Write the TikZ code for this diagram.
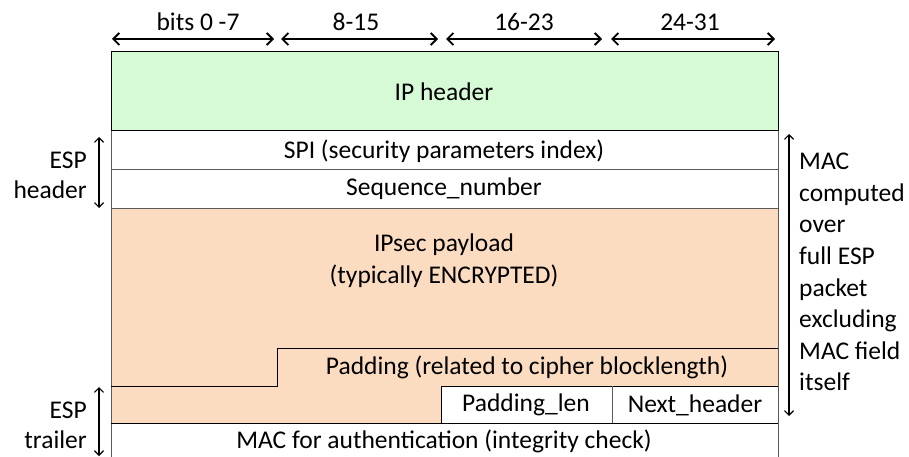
\documentclass[tikz,border=0pt]{standalone}
\usepackage{fontspec}
\setmainfont{Carlito}
\usetikzlibrary{arrows.meta}
\definecolor{ipgreen}{RGB}{213,250,213}
\definecolor{peach}{RGB}{251,220,192}
\definecolor{rowline}{RGB}{90,90,90}
\begin{document}
\begin{tikzpicture}[x=1pt,y=-1pt,
  lbl/.style={font=\fontsize{25.5}{30}\selectfont, inner sep=0pt},
  sidelbl/.style={font=\fontsize{25.5}{31.6}\selectfont, inner sep=0pt, align=left, anchor=north west},
  gline/.style={draw=rowline, line width=1pt},
  bline/.style={draw=black, line width=1pt},
  toparrow/.style={{Straight Barb[length=6pt,width=12pt]}-{Straight Barb[length=6pt,width=12pt]}, line width=1.8pt},
  sidearrow/.style={{Straight Barb[length=4.5pt,width=9pt]}-{Straight Barb[length=4.5pt,width=9pt]}, line width=1.2pt}]
\useasboundingbox (0,0) rectangle (909,457);
% fills
\fill[ipgreen] (111,52) rectangle (778,131);
\fill[peach] (111,208) -- (778,208) -- (778,386) -- (441,386) -- (441,423) -- (111,423) -- cycle;
% lines
\draw[bline] (111,131) -- (111,52) -- (778,52) -- (778,131) -- cycle;
\draw[gline] (111,131) -- (111,457);
\draw[gline] (778,131) -- (778,457);
\draw[gline] (111,170) -- (778,170);
\draw[gline] (111,208) -- (778,208);
\draw[bline] (111,386) -- (277,386) -- (277,348) -- (778,348);
\draw[bline] (441,423) -- (441,386) -- (778,386);
\draw[bline] (111,423) -- (778,423);
\draw[gline] (612,386) -- (612,423);
% top scale
\node[lbl] (b0) at (198,22) {bits 0 -7};
\node[lbl] (b1) at (356,22) {8-15};
\node[lbl] (b2) at (524,22) {16-23};
\node[lbl] (b3) at (690,22) {24-31};
\coordinate (a0l) at (112,39); \coordinate (a0r) at (274,39);
\coordinate (a1l) at (281,39); \coordinate (a1r) at (438,39);
\coordinate (a2l) at (446,39); \coordinate (a2r) at (602,39);
\coordinate (a3l) at (611,39); \coordinate (a3r) at (775,39);
\draw[toparrow] (a0l) -- (a0r);
\draw[toparrow] (a1l) -- (a1r);
\draw[toparrow] (a2l) -- (a2r);
\draw[toparrow] (a3l) -- (a3r);
% field labels
\node[lbl] (ip) at (444,92) {IP header};
\node[lbl] (spi) at (444,151) {SPI (security parameters index)};
\node[lbl] (seq) at (444,189) {Sequence\_number};
\node[lbl] (pay1) at (444,245) {IPsec payload};
\node[lbl] (pay2) at (444,276) {(typically ENCRYPTED)};
\node[lbl] (pad) at (527,367) {Padding (related to cipher blocklength)};
\node[lbl] (plen) at (526,405) {Padding\_len};
\node[lbl] (nh) at (695,405) {Next\_header};
\node[lbl] (mac) at (444,441) {MAC for authentication (integrity check)};
% left annotations
\node[lbl, anchor=east] (esph1) at (87,160) {ESP};
\node[lbl, anchor=east] (esph2) at (87,190) {header};
\node[lbl, anchor=east] (espt1) at (87,410) {ESP};
\node[lbl, anchor=east] (espt2) at (87,440) {trailer};
\coordinate (lh1) at (99,137); \coordinate (lh2) at (99,208);
\coordinate (lt1) at (99,387); \coordinate (lt2) at (99,456);
\draw[sidearrow] (lh1) -- (lh2);
\draw[sidearrow] (lt1) -- (lt2);
% right annotation
\coordinate (r1) at (789,134); \coordinate (r2) at (789,416);
\draw[sidearrow] (r1) -- (r2);
\node[sidelbl] (macnote) at (799,153) {MAC\\computed\\over\\full ESP\\packet\\excluding\\MAC field\\itself};
\end{tikzpicture}
\end{document}
